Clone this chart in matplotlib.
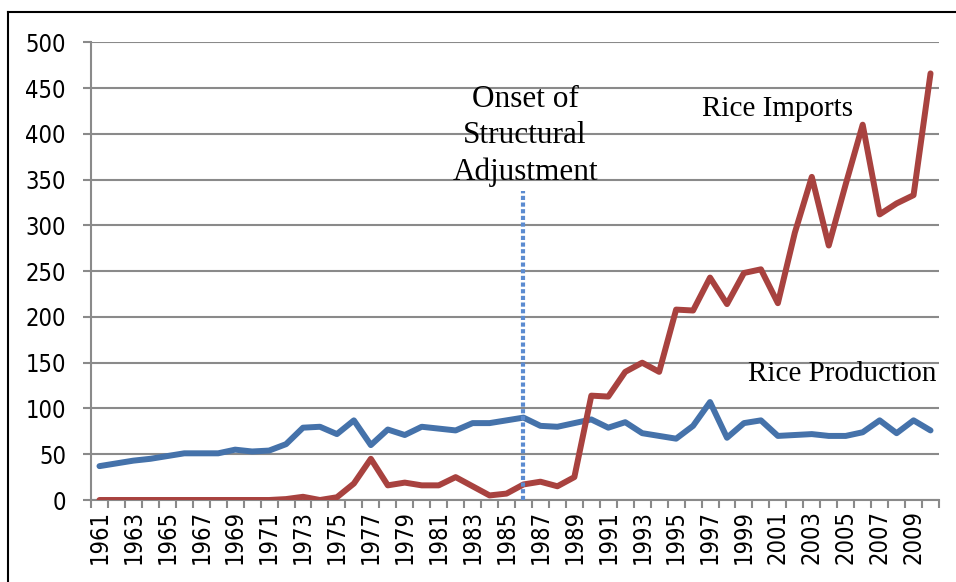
import matplotlib
matplotlib.use("Agg")
import matplotlib.pyplot as plt
from matplotlib.lines import Line2D
import numpy as np

years = list(range(1961, 2011))
rice_production = [37, 40, 43, 45, 48, 51, 51, 51, 55, 53,
                   54, 61, 79, 80, 72, 87, 60, 77, 71, 80,
                   78, 76, 84, 84, 87, 90, 81, 80, 84, 88,
                   79, 85, 73, 70, 67, 81, 107, 68, 84, 87,
                   70, 71, 72, 70, 70, 74, 87, 73, 87, 76]
rice_imports = [0, 0, 0, 0, 0, 0, 0, 0, 0, 0,
                0, 1, 3.5, 0, 3, 18, 45, 16, 19, 16,
                16, 25, 15, 5, 7, 17, 20, 15, 25, 114,
                113, 140, 150, 140, 208, 207, 243, 214, 248, 252,
                215, 292, 353, 278, 345, 410, 312, 324, 333, 466]
y_ticks = [0, 50, 100, 150, 200, 250, 300, 350, 400, 450, 500]
onset_year = 1986
onset_top = 338
onset_lines = ["Onset of", "Structural", "Adjustment"]

blue = "#4572AA"
red = "#A8423F"
grid_c = "#8A8A8A"

fig = plt.figure(figsize=(9.56, 5.82), dpi=100)
ax = fig.add_axes([91/956, 1 - 500/582, 848/956, 457.7/582])

x = np.arange(len(years))
ax.plot(x, rice_production, color=blue, lw=4.3, solid_joinstyle="round", solid_capstyle="round", zorder=3)
ax.plot(x, rice_imports, color=red, lw=4.3, solid_joinstyle="round", solid_capstyle="round", zorder=3)

xi = years.index(onset_year)
ax.plot([xi, xi], [0, onset_top], color="#5B8BD0", lw=3.0, ls=(0, (1, 0.6)), zorder=4)

ax.set_xlim(-0.5, len(years) - 0.5)
ax.set_ylim(0, 500)
ax.set_yticks(y_ticks)
ax.grid(axis="y", color=grid_c, lw=1.5, zorder=0)
ax.set_axisbelow(True)

tick_font = dict(family="DejaVu Sans", stretch="condensed", size=17)

# x ticks at category boundaries, labels at every other category
ax.set_xticks(np.arange(len(years) + 1) - 0.5)
ax.set_xticklabels([])
ax.set_xticks(x[::2], [str(y) for y in years[::2]], minor=True, fontdict=tick_font, rotation=90)
ax.tick_params(axis="x", which="major", length=6, width=1.5, color=grid_c, direction="out")
ax.tick_params(axis="x", which="minor", length=0, pad=7)
ax.set_yticklabels([str(v) for v in y_ticks], fontdict=tick_font)
ax.tick_params(axis="y", length=6, width=1.5, color=grid_c, pad=12)

for s in ["top", "right"]:
    ax.spines[s].set_visible(False)
for s in ["left", "bottom"]:
    ax.spines[s].set_color(grid_c)
    ax.spines[s].set_linewidth(1.5)

serif = "Liberation Serif"
for txt, yv in zip(onset_lines, [429, 390, 349.5]):
    ax.text(xi + 0.1, yv, txt, ha="center", va="baseline", fontsize=22.5, family=serif)
ax.text(40.0, 419, "Rice Imports", ha="center", va="baseline", fontsize=21, family=serif)
ax.text(43.8, 130, "Rice Production", ha="center", va="baseline", fontsize=21, family=serif)

# outer frame (top and left edges visible)
fig.add_artist(Line2D([8/956, 8/956], [0, 1 - 12/582], color="black", lw=1.5, transform=fig.transFigure))
fig.add_artist(Line2D([8/956, 1], [1 - 12/582, 1 - 12/582], color="black", lw=1.5, transform=fig.transFigure))

fig.savefig("out.png", dpi=100)
